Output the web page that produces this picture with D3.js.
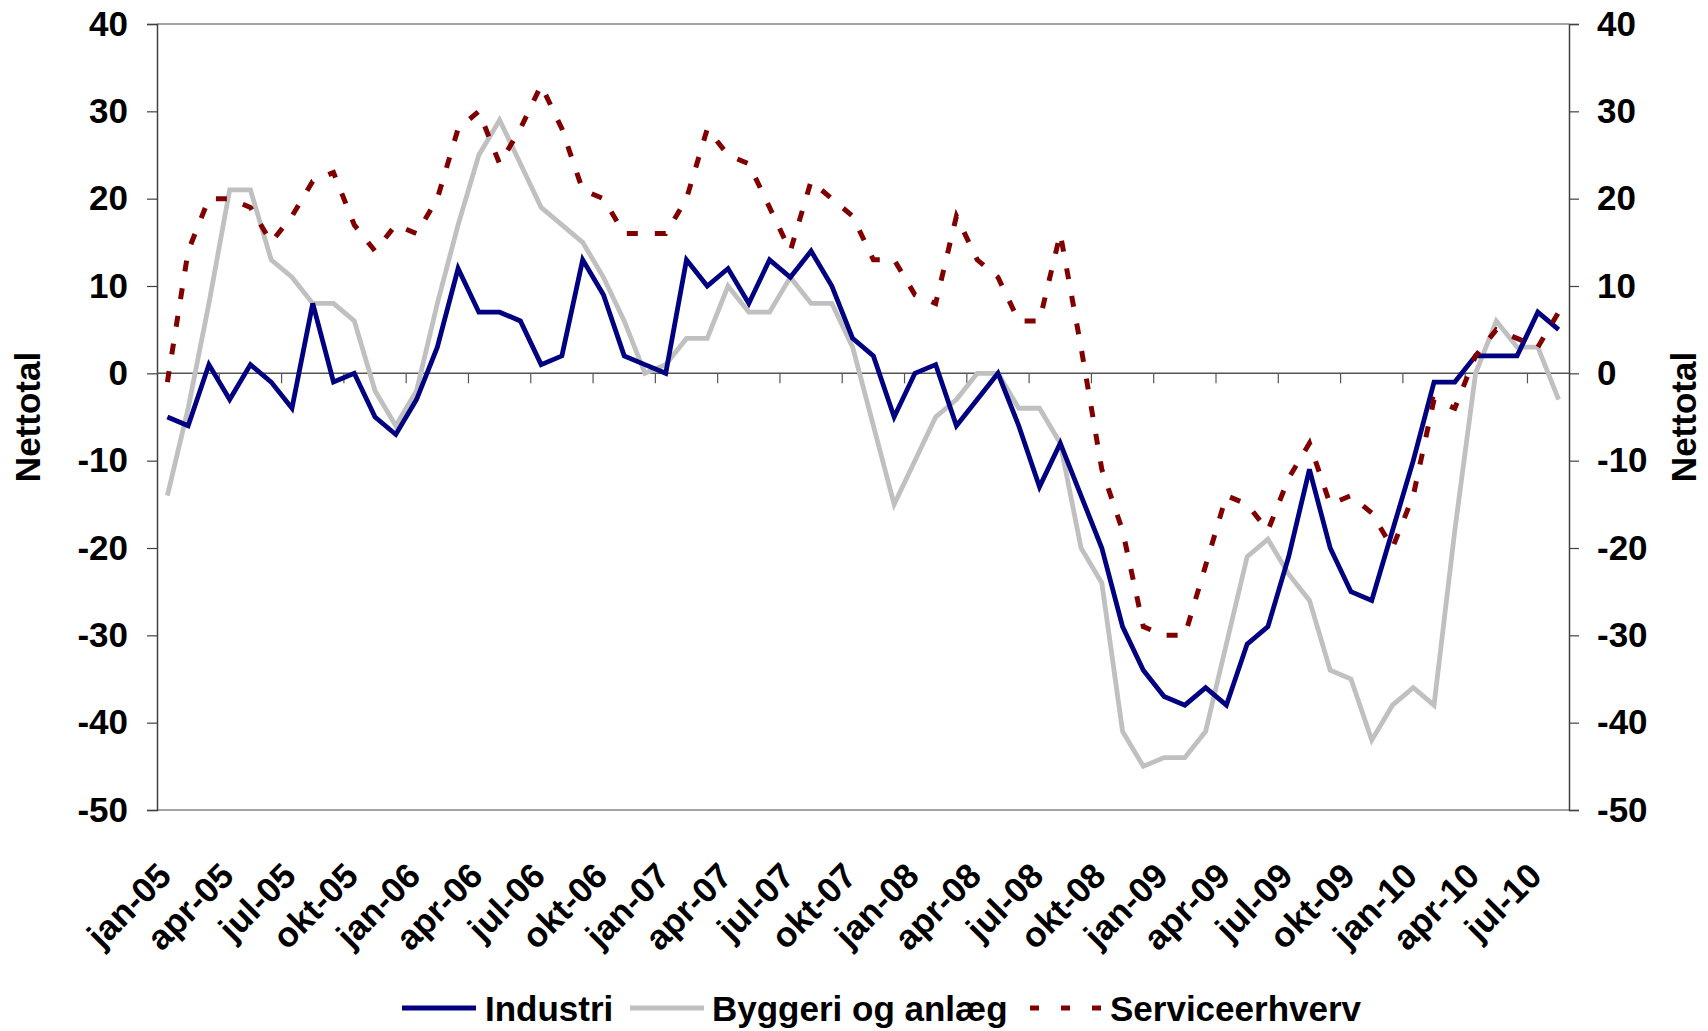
<!DOCTYPE html>
<html>
<head>
<meta charset="utf-8">
<script src="https://cdn.jsdelivr.net/npm/d3@7"></script>
<style>
  html, body { margin: 0; padding: 0; background: #fff; }
  svg text { font-family: "Liberation Sans", Arial, sans-serif; font-weight: bold; fill: #000; }
</style>
</head>
<body>
<svg id="chart" width="1708" height="1031"></svg>
<script>
// ---- data ----
const years = ["05", "06", "07", "08", "09", "10"];
const monthNames = ["jan", "feb", "mar", "apr", "maj", "jun", "jul", "aug", "sep", "okt", "nov", "dec"];
const nMonths = 68; // jan-05 .. aug-10
const categories = [];
for (let i = 0; i < nMonths; i++) categories.push(monthNames[i % 12] + "-" + years[Math.floor(i / 12)]);
const tickLabels = ["jan-05","apr-05","jul-05","okt-05","jan-06","apr-06","jul-06","okt-06","jan-07","apr-07","jul-07","okt-07","jan-08","apr-08","jul-08","okt-08","jan-09","apr-09","jul-09","okt-09","jan-10","apr-10","jul-10"];
const yTicks = [-50, -40, -30, -20, -10, 0, 10, 20, 30, 40];

const industri = [-5,-6,1,-3,1,-1,-4,8,-1,0,-5,-7,-3,3,12,7,7,6,1,2,13,9,2,1,0,13,10,12,8,13,11,14,10,4,2,-5,0,1,-6,-3,0,-6,-13,-8,-14,-20,-29,-34,-37,-38,-36,-38,-31,-29,-21,-11,-20,-25,-26,-18,-10,-1,-1,2,2,2,7,5];
const byggeri = [-14,-4,8,21,21,13,11,8,8,6,-2,-6,-2,8,17,25,29,24,19,17,15,11,6,0,1,4,4,10,7,7,11,8,8,3,-6,-15,-10,-5,-3,0,0,-4,-4,-8,-20,-24,-41,-45,-44,-44,-41,-31,-21,-19,-23,-26,-34,-35,-42,-38,-36,-38,-18,0,6,3,3,-3];
const service = [-1,14,20,20,19,15,18,22,23,17,14,17,16,20,28,30,24,28,33,28,21,20,16,16,16,20,28,25,24,19,14,22,20,18,13,13,9,8,18,13,11,6,6,16,3,-11,-18,-29,-30,-30,-22,-14,-15,-18,-12,-8,-15,-14,-16,-20,-14,-3,-4,2,5,4,3,7];

const seriesNames = ["Industri", "Byggeri og anlæg", "Serviceerhverv"];
const seriesColors = ["#000080", "#C0C0C0", "#800000"];

// ---- layout ----
const L = 157, R = 1569, T = 24, B = 810;
const FS = "35px";
const svg = d3.select("#chart");

const x = d3.scaleBand().domain(categories).range([L, R]).padding(0);
const bw = x.bandwidth();
const y = d3.scaleLinear().domain([-50, 40]).range([B, T]);
const cx = c => x(c) + bw / 2;
const fmt = d => String(d);

// plot area top/bottom border
svg.append("line").attr("x1", L).attr("x2", R).attr("y1", T).attr("y2", T).attr("stroke", "#868686").attr("stroke-width", 1.5);
svg.append("line").attr("x1", L).attr("x2", R).attr("y1", B).attr("y2", B).attr("stroke", "#868686").attr("stroke-width", 1.5);

// left axis
const axL = svg.append("g").attr("transform", `translate(${L},0)`)
  .call(d3.axisLeft(y).tickValues(yTicks).tickSize(10).tickPadding(19).tickFormat(fmt));
axL.select(".domain").attr("stroke", "#404040").attr("stroke-width", 1.5);
axL.selectAll(".tick line").attr("stroke", "#404040").attr("stroke-width", 1.2);
axL.selectAll("text").style("font-size", FS).attr("font-family", null).attr("fill", "#000");

// right axis
const axR = svg.append("g").attr("transform", `translate(${R},0)`)
  .call(d3.axisRight(y).tickValues(yTicks).tickSize(10).tickPadding(18).tickFormat(fmt));
axR.select(".domain").attr("stroke", "#404040").attr("stroke-width", 1.5);
axR.selectAll(".tick line").attr("stroke", "#404040").attr("stroke-width", 1.2);
axR.selectAll("text").style("font-size", FS).attr("font-family", null).attr("fill", "#000");

// zero (category) axis line with ticks every 3 months at category boundaries
svg.append("line").attr("x1", L).attr("x2", R).attr("y1", y(0)).attr("y2", y(0)).attr("stroke", "#555").attr("stroke-width", 1.5);
const boundaryCats = categories.filter((c, i) => i > 0 && i % 3 === 0);
svg.append("g").selectAll("line").data(boundaryCats).join("line")
  .attr("x1", d => x(d)).attr("x2", d => x(d))
  .attr("y1", y(0)).attr("y2", y(0) + 10)
  .attr("stroke", "#555").attr("stroke-width", 1.2);

// x labels (rotated)
const labelCats = categories.filter((c, i) => i % 3 === 0);
svg.append("g").selectAll("text").data(labelCats).join("text")
  .attr("transform", (d, i) => `translate(${cx(d) + 6},${878}) rotate(-45)`)
  .attr("text-anchor", "end")
  .style("font-size", FS)
  .text((d, i) => tickLabels[i]);

// axis titles
svg.append("text").attr("transform", `translate(${40},${(T + B) / 2}) rotate(-90)`)
  .attr("text-anchor", "middle").style("font-size", FS).text("Nettotal");
svg.append("text").attr("transform", `translate(${1696},${(T + B) / 2}) rotate(-90)`)
  .attr("text-anchor", "middle").style("font-size", FS).text("Nettotal");

// series lines
const line = d3.line().x((d, i) => cx(categories[i])).y(d => y(d));
svg.append("path").datum(byggeri).attr("d", line).attr("fill", "none")
  .attr("stroke", seriesColors[1]).attr("stroke-width", 4.8).attr("stroke-linejoin", "miter");
svg.append("path").datum(industri).attr("d", line).attr("fill", "none")
  .attr("stroke", seriesColors[0]).attr("stroke-width", 4.8).attr("stroke-linejoin", "miter");
svg.append("path").datum(service).attr("d", line).attr("fill", "none")
  .attr("stroke", seriesColors[2]).attr("stroke-width", 5).attr("stroke-dasharray", "11,17");

// legend
const legendItems = [
  { name: seriesNames[0], color: seriesColors[0], x1: 402, x2: 476, tx: 485, dash: null },
  { name: seriesNames[1], color: seriesColors[1], x1: 630, x2: 704, tx: 712, dash: null },
  { name: seriesNames[2], color: seriesColors[2], x1: 1030, x2: 1102, tx: 1110, dash: "9,22" }
];
const lg = svg.append("g");
legendItems.forEach(it => {
  lg.append("line").attr("x1", it.x1).attr("x2", it.x2).attr("y1", 1008).attr("y2", 1008)
    .attr("stroke", it.color).attr("stroke-width", 4.8).attr("stroke-dasharray", it.dash);
  lg.append("text").attr("x", it.tx).attr("y", 1021).style("font-size", FS).text(it.name);
});
</script>
</body>
</html>
